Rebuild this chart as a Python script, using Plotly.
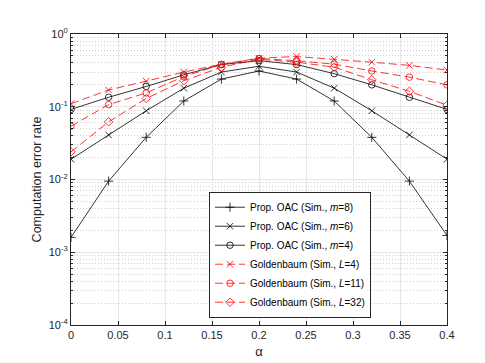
import plotly.graph_objects as go

alpha = [0, 0.04, 0.08, 0.12, 0.16, 0.2, 0.24, 0.28, 0.32, 0.36, 0.4]

oac_m8 = [0.0016, 0.0095, 0.038, 0.12, 0.24, 0.31, 0.24, 0.12, 0.038, 0.0095, 0.0017]
oac_m6 = [0.019, 0.041, 0.088, 0.18, 0.30, 0.36, 0.30, 0.18, 0.088, 0.041, 0.019]
oac_m4 = [0.092, 0.135, 0.19, 0.275, 0.38, 0.43, 0.38, 0.285, 0.20, 0.135, 0.092]
gold_L4 = [0.11, 0.17, 0.225, 0.30, 0.385, 0.465, 0.49, 0.45, 0.41, 0.37, 0.32]
gold_L11 = [0.054, 0.107, 0.155, 0.26, 0.38, 0.46, 0.43, 0.385, 0.31, 0.255, 0.20]
gold_L32 = [0.024, 0.062, 0.13, 0.228, 0.35, 0.45, 0.41, 0.35, 0.235, 0.163, 0.105]

series = [
    ("Prop. OAC (Sim., <i>m</i>=8)", oac_m8, "black", "solid", "cross-thin"),
    ("Prop. OAC (Sim., <i>m</i>=6)", oac_m6, "black", "solid", "x-thin"),
    ("Prop. OAC (Sim., <i>m</i>=4)", oac_m4, "black", "solid", "circle-open"),
    ("Goldenbaum (Sim., <i>L</i>=4)", gold_L4, "red", "8px,4px", "x-thin"),
    ("Goldenbaum (Sim., <i>L</i>=11)", gold_L11, "red", "8px,4px", "circle-open"),
    ("Goldenbaum (Sim., <i>L</i>=32)", gold_L32, "red", "8px,4px", "diamond-open"),
]

fig = go.Figure()
for name, vals, col, dash, sym in series:
    fig.add_trace(go.Scatter(
        x=alpha, y=vals, name=name, mode="lines+markers",
        line=dict(color=col, width=0.8, dash=dash),
        marker=dict(symbol=sym, size=6.5, color=col, line=dict(color=col, width=0.8)),
    ))

minor_vals = [m * 10.0 ** e for e in range(-4, 0) for m in range(2, 10)]

fig.update_xaxes(
    range=[0, 0.4], tickvals=[0, 0.05, 0.1, 0.15, 0.2, 0.25, 0.3, 0.35, 0.4],
    ticktext=["0", "0.05", "0.1", "0.15", "0.2", "0.25", "0.3", "0.35", "0.4"],
    showgrid=True, gridcolor="#e6e6e6", gridwidth=1,
    ticks="inside", ticklen=4, tickcolor="#262626",
    showline=True, linecolor="#262626", linewidth=1, mirror="ticks",
    zeroline=False,
    title=dict(text="α", font=dict(size=13, color="#262626"), standoff=6),
    tickfont=dict(size=11, color="#262626"),
)
fig.update_yaxes(
    type="log", range=[-4, 0],
    tickvals=[1e-4, 1e-3, 1e-2, 1e-1, 1],
    ticktext=["10<sup>-4</sup>", "10<sup>-3</sup>", "10<sup>-2</sup>", "10<sup>-1</sup>", "10<sup>0</sup>"],
    showgrid=True, gridcolor="#e6e6e6", gridwidth=1,
    ticks="inside", ticklen=4, tickcolor="#262626",
    minor=dict(tickvals=minor_vals, ticks="inside", ticklen=2, tickcolor="#262626",
               showgrid=True, gridcolor="#cfcfcf", griddash="1px,2px", gridwidth=1),
    showline=True, linecolor="#262626", linewidth=1, mirror="ticks",
    zeroline=False,
    title=dict(text="Computation error rate", font=dict(size=12.5, color="#262626"), standoff=4),
    tickfont=dict(size=11, color="#262626"),
)

fig.update_layout(
    width=485, height=363,
    margin=dict(l=63, r=46, t=26, b=46),
    paper_bgcolor="white", plot_bgcolor="white",
    font=dict(family="Liberation Sans, Arial, sans-serif", color="#262626"),
    legend=dict(
        x=0.367, y=0.025, xanchor="left", yanchor="bottom",
        bgcolor="white", bordercolor="#262626", borderwidth=1,
        font=dict(size=10, color="black"),
        tracegroupgap=0, itemwidth=30,
    ),
    showlegend=True,
)

fig.write_html("out.html")
